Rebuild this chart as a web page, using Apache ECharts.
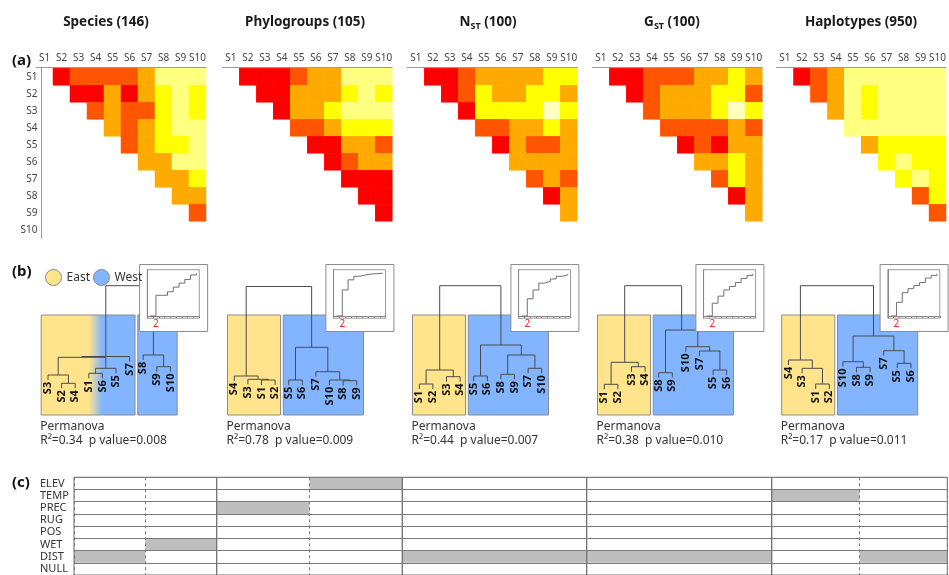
<!DOCTYPE html>
<html><head><meta charset="utf-8">
<script src="https://cdn.jsdelivr.net/npm/echarts@6/dist/echarts.min.js"></script>
<style>html,body{margin:0;padding:0;background:#fff}#c{width:949px;height:575px}</style>
</head><body><div id="c"></div>
<script>
// ---------------- DATA ----------------
const sites = ['S1','S2','S3','S4','S5','S6','S7','S8','S9','S10'];
const panelTitles = ['{b|Species (146)}','{b|Phylogroups (105)}','{b|N}{s|ST}{b| (100)}','{b|G}{s|ST}{b| (100)}','{b|Haplotypes (950)}'];
// dissimilarity class per pair (1 = lowest / red ... 6 = highest / pale yellow); row Si vs S(i+1)..S10
const speciesDist = [
  [1,2,2,2,2,3,5,5,5],[1,1,3,1,3,4,5,4],[2,3,2,2,4,5,4],[3,2,3,4,5,5],[2,3,4,4,5],[3,3,5,5],[3,3,4],[3,3],[2]];
const phyloDist = [
  [1,1,1,2,3,3,5,5,5],[1,1,3,3,3,4,5,4],[1,3,3,4,5,5,5],[2,2,3,4,4,4],[1,1,3,3,2],[1,2,3,3],[1,1,1],[1,1],[1]];
const nstDist = [
  [1,1,2,3,3,3,3,4,4],[1,2,4,3,3,4,4,3],[1,4,4,4,4,6,4],[2,2,3,3,4,3],[1,3,2,2,3],[3,3,3,3],[2,3,2],[1,3],[3]];
const gstDist = [
  [1,1,2,2,2,3,3,4,3],[1,2,3,3,3,4,4,2],[2,3,3,3,4,6,4],[2,2,2,2,3,2],[1,2,1,3,3],[3,3,4,3],[2,4,3],[1,3],[3]];
const haploDist = [
  [1,2,3,5,5,5,5,5,5],[2,3,5,4,5,5,5,5],[3,5,4,5,5,5,5],[5,5,5,5,5,5],[3,4,4,4,4],[4,5,4,4],[4,5,4],[2,4],[2]];
const levelColors = ['#FF0000','#FF5500','#FFAA00','#FFFF00','#FFFF80','#FFFFBF'];

// dendrograms: leaf order + merges [childA, childB, height]; number = earlier merge index
const speciesLeaves = ['S3','S2','S4','S1','S6','S5','S7','S8','S9','S10'];
const speciesMerges = [['S2','S4',31.7],['S3',0,40],['S1','S6',41.7],[2,'S5',46.7],[1,3,57.7],[4,'S7',58.5],['S9','S10',48.3],['S8',6,60],[5,7,129.3]];
const speciesClusters = [7,3];
const phyloLeaves = ['S4','S3','S1','S2','S5','S6','S7','S10','S8','S9'];
const phyloMerges = [['S1','S2',35],['S3',0,35.7],['S4',1,39],['S5','S6',35],['S8','S9',34.3],['S10',4,35],['S7',5,43.3],[3,6,67.7],[2,7,128.5]];
const phyloClusters = [4,6];
const nstLeaves = ['S1','S2','S3','S4','S5','S6','S8','S9','S7','S10'];
const nstMerges = [['S1','S2',31],['S3','S4',38.3],[0,1,45],['S5','S6',39],['S8','S9',40.7],['S7','S10',46.7],[4,5,60],[3,6,70],[2,7,129.3]];
const nstClusters = [4,6];
const gstLeaves = ['S1','S2','S3','S4','S8','S9','S10','S7','S5','S6'];
const gstMerges = [['S1','S2',30.7],['S3','S4',48.3],[0,1,52.7],['S8','S9',42.3],['S5','S6',45],['S7',4,64],['S10',5,68.3],[3,6,85],[2,7,129.3]];
const gstClusters = [4,6];
const haploLeaves = ['S4','S3','S1','S2','S10','S8','S9','S7','S5','S6'];
const haploMerges = [['S1','S2',31],['S3',0,46.7],['S4',1,55],['S8','S9',47.7],['S10',3,53.3],['S5','S6',51.7],['S7',5,64.3],[4,6,79],[2,7,129.3]];
const haploClusters = [4,6];
const eastSites = ['S1','S2','S3','S4'];
const cutHeight = 100;

// inset curves (k = 1..9)
const kValues = ['1','2','3','4','5','6','7','8','9'];
const speciesCurve = [0,0.47,0.47,0.55,0.655,0.745,0.83,0.93,0.97];
const phyloCurve   = [0,0.59,0.82,0.90,0.93,0.95,0.96,0.97,0.98];
const nstCurve     = [0,0.39,0.59,0.745,0.79,0.84,0.90,0.93,0.95];
const gstCurve     = [0,0.29,0.45,0.59,0.67,0.76,0.85,0.92,0.96];
const haploCurve   = [0,0.31,0.53,0.62,0.69,0.76,0.86,0.92,0.96];
const bestK = '2';

const r2Values = ['0.34','0.78','0.44','0.38','0.17'];
const pValues = ['0.008','0.009','0.007','0.010','0.011'];

// (c) selected environmental variables per model column
const envVars = ['ELEV','TEMP','PREC','RUG','POS','WET','DIST','NULL'];
const speciesModels = ['DIST','WET'];
const phyloModels = ['PREC','ELEV'];
const nstModels = ['DIST'];
const gstModels = ['DIST'];
const haploModels = ['TEMP','DIST'];

// ---------------- LAYOUT ----------------
const FONT = "'Noto Sans','Open Sans',sans-serif";
const L = {
  heatLeft: [36, 222.3, 407.3, 592.3, 776.5], heatTop: 68.3, heatSize: 170,
  titleX: [106, 305, 488, 672, 861], titleY: 22,
  dendTop: 285, dendH: 130, dendDx: 5.2, dendW: 136,
  insetDx: 111.3, insetTop: 269.7, insetW: 52, insetH: 48.5,
  frameDx: 103.6, frameTop: 264.5, frameW: 68, frameH: 67,
  tableEdges: [74, 216.7, 402.3, 586.7, 771.7, 947.3], tableTop: 477.3, rowH: 12.7
};
const EAST = '#FFE48C', WEST = '#82B4FF';

const panels = [
  {dist: speciesDist, leaves: speciesLeaves, merges: speciesMerges, clusters: speciesClusters, curve: speciesCurve, models: speciesModels},
  {dist: phyloDist, leaves: phyloLeaves, merges: phyloMerges, clusters: phyloClusters, curve: phyloCurve, models: phyloModels},
  {dist: nstDist, leaves: nstLeaves, merges: nstMerges, clusters: nstClusters, curve: nstCurve, models: nstModels},
  {dist: gstDist, leaves: gstLeaves, merges: gstMerges, clusters: gstClusters, curve: gstCurve, models: gstModels},
  {dist: haploDist, leaves: haploLeaves, merges: haploMerges, clusters: haploClusters, curve: haploCurve, models: haploModels}
];

const grids = [], xAxes = [], yAxes = [], series = [], graphics = [];
const heatSeries = [];
function addGrid(g, xa, ya) {
  const idx = grids.length;
  grids.push(g); xa.gridIndex = idx; ya.gridIndex = idx;
  xAxes.push(xa); yAxes.push(ya);
  return idx;
}

// (a) heatmaps
panels.forEach((p, i) => {
  const gi = addGrid(
    {left: L.heatLeft[i], top: L.heatTop, width: L.heatSize, height: L.heatSize},
    {type: 'category', data: sites, position: 'top', offset: 1,
     axisLine: {lineStyle: {color: '#999'}}, axisTick: {alignWithLabel: true, length: 3, lineStyle: {color: '#999'}},
     axisLabel: {fontSize: 10, color: '#444', margin: 4, interval: 0}, splitLine: {show: false}},
    {type: 'category', data: sites, inverse: true, offset: -5.5, show: i === 0,
     axisLine: {lineStyle: {color: '#999'}}, axisTick: {alignWithLabel: true, length: 3, lineStyle: {color: '#999'}},
     axisLabel: {fontSize: 10, color: '#444', margin: 4, interval: 0}, splitLine: {show: false}});
  const data = [];
  p.dist.forEach((row, r) => row.forEach((v, j) => data.push([r + 1 + j, r, v])));
  heatSeries.push(series.length);
  series.push({type: 'heatmap', xAxisIndex: gi, yAxisIndex: gi, data: data});
});

// (b) dendrograms
function buildDendro(leaves, merges, hang) {
  const leafPos = {}; leaves.forEach((l, i) => leafPos[l] = i);
  const nodes = [], segs = [], labels = [];
  merges.forEach((m, idx) => {
    const H = m[2];
    const ends = [m[0], m[1]].map(c => {
      if (typeof c === 'number') return {x: nodes[c].x, y: nodes[c].h};
      labels.push([leafPos[c], H - hang - 1.8, c]);
      return {x: leafPos[c], y: H - hang};
    });
    segs.push([ends[0].x, ends[0].y, ends[1].x, ends[1].y, H]);
    nodes[idx] = {x: (ends[0].x + ends[1].x) / 2, h: H};
  });
  return {segs, labels};
}

panels.forEach((p, i) => {
  const left = L.heatLeft[i] + L.dendDx;
  const gi = addGrid(
    {left: left, top: L.dendTop, width: L.dendW, height: L.dendH},
    {type: 'value', min: -0.5, max: 9.5, show: false},
    {type: 'value', min: 0, max: 130, show: false});
  const d = buildDendro(p.leaves, p.merges, 5);
  // cluster boxes
  const eastBoxes = [], westBoxes = [];
  let start = 0;
  p.clusters.forEach((n, ci) => {
    const x0 = start - 0.5 + (ci > 0 ? 0.1 : 0);
    const x1 = start + n - 0.5 - (ci < p.clusters.length - 1 ? 0.1 : 0);
    const members = p.leaves.slice(start, start + n);
    const isEast = members.map(s => eastSites.indexOf(s) >= 0);
    const nEast = isEast.filter(Boolean).length;
    let fill;
    if (nEast === n) fill = EAST;
    else if (nEast === 0) fill = WEST;
    else {
      const b = start + isEast.indexOf(false); // first west leaf
      const w = x1 - x0;
      fill = new echarts.graphic.LinearGradient(0, 0, 1, 0, [
        {offset: 0, color: EAST}, {offset: (b - 1 - x0) / w, color: EAST},
        {offset: (b - x0) / w, color: WEST}, {offset: 1, color: WEST}]);
    }
    const item = {value: [x0, x1, 0, cutHeight], fill: fill};
    (nEast > 0 ? eastBoxes : westBoxes).push(item);
    start += n;
  });
  const boxRender = (arr) => (params, api) => {
    const a = api.coord([api.value(0), api.value(3)]);
    const b = api.coord([api.value(1), api.value(2)]);
    return {type: 'rect', shape: {x: a[0], y: a[1], width: b[0] - a[0], height: b[1] - a[1]},
      style: {fill: arr[params.dataIndex].fill, stroke: '#8c8c8c', lineWidth: 1}};
  };
  series.push({type: 'custom', name: 'East', xAxisIndex: gi, yAxisIndex: gi, z: 2, itemStyle: {color: EAST},
    data: eastBoxes.map(o => o.value), encode: {x: [0, 1], y: [2, 3]}, renderItem: boxRender(eastBoxes), silent: true});
  series.push({type: 'custom', name: 'West', xAxisIndex: gi, yAxisIndex: gi, z: 2, itemStyle: {color: WEST},
    data: westBoxes.map(o => o.value), encode: {x: [0, 1], y: [2, 3]}, renderItem: boxRender(westBoxes), silent: true});
  // branches
  series.push({type: 'custom', xAxisIndex: gi, yAxisIndex: gi, z: 3, silent: true,
    data: d.segs, encode: {x: [0, 2], y: [1, 3, 4]},
    renderItem: (params, api) => {
      const p1 = api.coord([api.value(0), api.value(1)]);
      const p2 = api.coord([api.value(0), api.value(4)]);
      const p3 = api.coord([api.value(2), api.value(4)]);
      const p4 = api.coord([api.value(2), api.value(3)]);
      return {type: 'polyline', shape: {points: [p1, p2, p3, p4]}, style: {stroke: '#4a4a4a', lineWidth: 1, fill: null}};
    }});
  // leaf labels
  series.push({type: 'custom', xAxisIndex: gi, yAxisIndex: gi, z: 3, silent: true,
    data: d.labels.map(l => [l[0], l[1]]), encode: {x: 0, y: 1},
    renderItem: (params, api) => {
      const pt = api.coord([api.value(0), api.value(1)]);
      return {type: 'text', x: pt[0], y: pt[1], rotation: Math.PI / 2,
        style: {text: d.labels[params.dataIndex][2], fill: '#111', font: 'bold 11px ' + FONT,
          align: 'right', verticalAlign: 'middle', textAlign: 'right', textVerticalAlign: 'middle'}};
    }});
  // Permanova text
  graphics.push({type: 'text', left: left - 1, top: 419, z: 5,
    style: {text: 'Permanova\nR²=' + r2Values[i] + '  p value=' + pValues[i], font: '12px ' + FONT, fill: '#333', lineHeight: 14.5}});
});

// insets
panels.forEach((p, i) => {
  graphics.push({type: 'rect', z: 10, shape: {x: L.heatLeft[i] + L.frameDx, y: L.frameTop, width: L.frameW, height: L.frameH},
    style: {fill: '#fff', stroke: '#8c8c8c', lineWidth: 1}});
  const gi = addGrid(
    {left: L.heatLeft[i] + L.insetDx, top: L.insetTop, width: L.insetW, height: L.insetH, show: true,
     borderColor: '#999', borderWidth: 1, backgroundColor: 'transparent', z: 11},
    {type: 'category', data: kValues, boundaryGap: true, z: 11,
     axisLine: {lineStyle: {color: '#888'}}, axisTick: {show: true, length: 2, lineStyle: {color: '#888'}},
     axisLabel: {interval: 0, fontSize: 10, color: '#FF2020', margin: 1, formatter: v => v === bestK ? v : ''}},
    {type: 'value', min: -0.05, max: 1.05, z: 11, axisLine: {show: true, lineStyle: {color: '#888'}},
     axisTick: {show: false}, axisLabel: {show: false}, splitLine: {show: false}});
  series.push({type: 'line', xAxisIndex: gi, yAxisIndex: gi, z: 12, step: 'end', showSymbol: false, silent: true,
    data: p.curve, lineStyle: {color: '#707070', width: 1},
    markLine: {silent: true, symbol: ['none', 'none'], label: {show: false},
      lineStyle: {color: '#FF2020', type: [4, 3], width: 1.6}, data: [{xAxis: bestK}]}});
});

// (c) table
panels.forEach((p, i) => {
  const ncol = p.models.length;
  const gi = addGrid(
    {left: L.tableEdges[i], width: L.tableEdges[i + 1] - L.tableEdges[i], top: L.tableTop, height: L.rowH * envVars.length,
     show: true, borderColor: '#6e6e6e', borderWidth: 1, backgroundColor: 'transparent', z: 4},
    {type: 'value', min: 0, max: ncol, interval: 1, z: 5,
     axisLine: {show: false}, axisTick: {show: false}, axisLabel: {show: false},
     splitLine: {show: true, lineStyle: {color: '#777', type: [3, 3], width: 1}}},
    {type: 'category', data: envVars, inverse: true, z: 5,
     axisLine: {show: false}, axisTick: {show: false},
     axisLabel: {show: i === 0, interval: 0, align: 'left', margin: 34, fontSize: 11, color: '#333'},
     splitLine: {show: true, lineStyle: {color: '#7a7a7a', width: 1.2}}});
  const cells = p.models.map((v, c) => [c + 0.5, v]);
  series.push({type: 'custom', xAxisIndex: gi, yAxisIndex: gi, z: 2, silent: true, data: cells,
    encode: {x: 0, y: 1},
    renderItem: (params, api) => {
      const c = api.coord([api.value(0), api.value(1)]);
      const s = api.size([1, 1]);
      return {type: 'rect', shape: {x: c[0] - s[0] / 2, y: c[1] - s[1] / 2, width: s[0], height: s[1]},
        style: {fill: '#BEBEBE'}};
    }});
});

// texts
panelTitles.forEach((t, i) => {
  graphics.push({type: 'text', x: L.titleX[i], y: L.titleY, z: 5,
    style: {text: t, textAlign: 'center', textVerticalAlign: 'middle', align: 'center', verticalAlign: 'middle',
      rich: {b: {font: 'bold 13.5px ' + FONT, fill: '#1a1a1a', color: '#1a1a1a', lineHeight: 18},
             s: {font: 'bold 9px ' + FONT, fill: '#1a1a1a', color: '#1a1a1a', lineHeight: 18, verticalAlign: 'bottom', padding: [7, 0, 0, 0]}}}});
});
[['(a)', 61], ['(b)', 272], ['(c)', 483]].forEach(a => {
  graphics.push({type: 'text', x: 12, y: a[1], z: 5,
    style: {text: a[0], font: 'bold 15px ' + FONT, fill: '#111', textVerticalAlign: 'middle', verticalAlign: 'middle'}});
});

const option = {
  animation: false,
  textStyle: {fontFamily: FONT},
  grid: grids, xAxis: xAxes, yAxis: yAxes, series: series,
  visualMap: {type: 'piecewise', show: false, dimension: 2, seriesIndex: heatSeries,
    pieces: levelColors.map((c, k) => ({value: k + 1, color: c}))},
  legend: {left: 40, top: 264, itemWidth: 16, itemHeight: 16, itemGap: 3, selectedMode: false, z: 12,
    textStyle: {fontSize: 12, color: '#333'},
    data: [{name: 'East', icon: 'circle', itemStyle: {color: EAST, borderColor: '#888', borderWidth: 1}},
           {name: 'West', icon: 'circle', itemStyle: {color: WEST, borderColor: '#888', borderWidth: 1}}]},
  graphic: graphics
};
const chart = echarts.init(document.getElementById('c'), null, {renderer: 'canvas'});
chart.setOption(option);
</script></body></html>
